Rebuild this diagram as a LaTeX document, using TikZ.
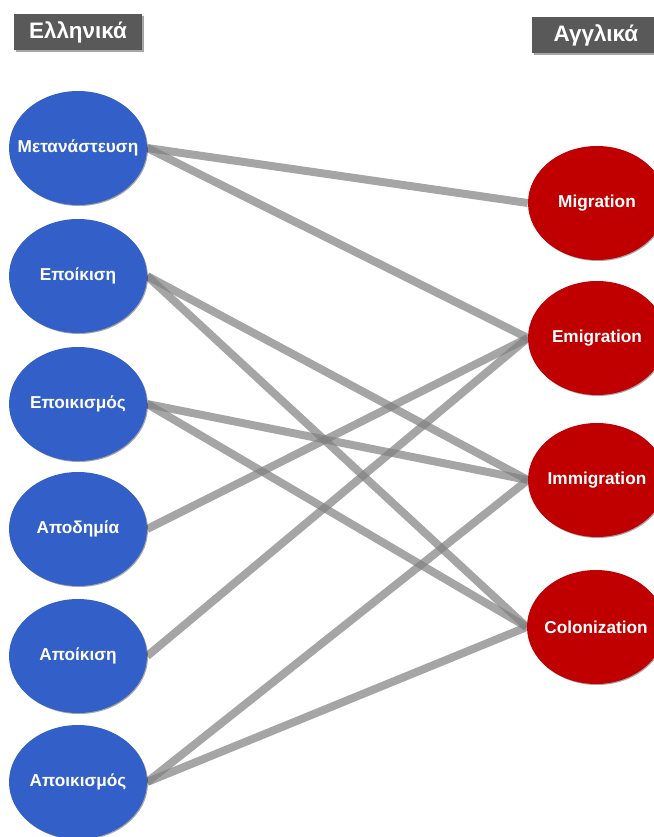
\documentclass[tikz,border=0pt]{standalone}
\usepackage{fontspec}
\setmainfont{Liberation Sans}
\usetikzlibrary{shapes.geometric,shadows,backgrounds}
\definecolor{grnode}{RGB}{50,96,200}
\definecolor{ennode}{RGB}{192,0,0}
\definecolor{hdr}{RGB}{89,89,89}
\definecolor{lnk}{RGB}{127,127,127}
\newcommand{\lbl}[1]{\makebox[0pt]{#1}}
\begin{document}
\begin{tikzpicture}[x=1bp,y=-1bp,
  bub/.style={ellipse, minimum width=138bp, minimum height=114bp, inner sep=0pt,
    text=white, font=\bfseries\fontsize{17.3}{19}\selectfont,
    drop shadow={shadow xshift=1bp, shadow yshift=-1bp, opacity=0.35, fill=black}},
  grb/.style={bub, fill=grnode},
  enb/.style={bub, fill=ennode},
  hbox/.style={rectangle, fill=hdr, text=white, minimum width=128bp, minimum height=36bp,
    inner sep=0pt, font=\bfseries\fontsize{22.5}{24}\selectfont,
    drop shadow={shadow xshift=2bp, shadow yshift=-2bp, opacity=0.35, fill=black}},
  link/.style={draw=lnk, line width=8bp, draw opacity=0.7}]
\clip (0,0) rectangle (654,837);
\node[hbox] (hgr) at (78,32) {\lbl{Ελληνικά}};
\node[hbox] (hen) at (596,35) {\lbl{Αγγλικά}};
\node[grb] (g1) at (78,148) {\lbl{Μετανάστευση}};
\node[grb] (g2) at (78,276) {\lbl{Εποίκιση}};
\node[grb] (g3) at (78,404) {\lbl{Εποικισμός}};
\node[grb] (g4) at (78,529) {\lbl{Αποδημία}};
\node[grb] (g5) at (78,656) {\lbl{Αποίκιση}};
\node[grb] (g6) at (78,782) {\lbl{Αποικισμός}};
\node[enb] (e1) at (597,203) {\lbl{Migration}};
\node[enb] (e2) at (597,338) {\lbl{Emigration}};
\node[enb] (e3) at (597,480) {\lbl{Immigration}};
\node[enb] (e4) at (596,627) {\lbl{Colonization}};
\begin{scope}[on background layer]
\draw[link] (g1.east) -- (e1.west);
\draw[link] (g1.east) -- (e2.west);
\draw[link] (g2.east) -- (e3.west);
\draw[link] (g2.east) -- (e4.west);
\draw[link] (g3.east) -- (e3.west);
\draw[link] (g3.east) -- (e4.west);
\draw[link] (g4.east) -- (e2.west);
\draw[link] (g5.east) -- (e2.west);
\draw[link] (g6.east) -- (e3.west);
\draw[link] (g6.east) -- (e4.west);
\end{scope}
\end{tikzpicture}
\end{document}
